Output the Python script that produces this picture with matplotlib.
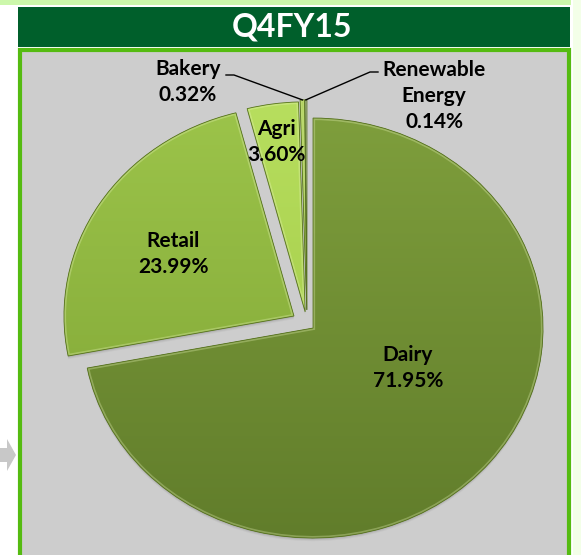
import numpy as np
import matplotlib.pyplot as plt
from matplotlib.patches import Rectangle, Polygon, Wedge
from matplotlib.colors import LinearSegmentedColormap

plt.rcParams['font.family'] = ['Lato', 'DejaVu Sans']

# data
segments = ['Dairy', 'Retail', 'Agri', 'Bakery', 'Renewable\nEnergy']
shares = [71.95, 23.99, 3.60, 0.32, 0.14]
share_labels = ['71.95%', '23.99%', '3.60%', '0.32%', '0.14%']
title = 'Q4FY15'

# styling
explode = [0.034, 0.067, 0.056, 0.065, 0.065]
top_cols = ['#7e9e3c', '#9cc44a', '#b7de5e', '#a6cc4c', '#a0ae94']
bot_cols = ['#617d2b', '#7ea334', '#9ec642', '#88ae36', '#7c8a72']

W, H = 581, 555
fig = plt.figure(figsize=(W / 100, H / 100), dpi=100)

# background frame, drawn in pixel units
bg = fig.add_axes([0, 0, 1, 1])
bg.set_xlim(0, W)
bg.set_ylim(H, 0)
bg.axis('off')
bg.add_patch(Rectangle((0, 0), 571, 4.5, color='#ccf7ab', lw=0))
bg.add_patch(Rectangle((573, 0), 8, H, color='#f3ffe8', lw=0))
bg.add_patch(Rectangle((18, 7), 552, 40, color='#005f2b', lw=0))
bg.add_patch(Rectangle((19.5, 49.5), 549, 510, facecolor='#cdcdcd',
                       edgecolor='#55bb11', linewidth=3))
bg.add_patch(Polygon([(0, 448), (7, 448), (7, 439), (16, 455), (7, 471),
                      (7, 462), (0, 462)], color='#c8c8c8', lw=0))
bg.text(292, 27, title, color='white', fontsize=23, fontweight='bold',
        ha='center', va='center')

# pie axes: 1 unit = 230 px across, 210 px down (the chart is stretched)
cx0, cy0, rx, ry = 307, 323.5, 230, 210
ax = fig.add_axes([0, 0, 1, 1])
ax.patch.set_alpha(0)


def px2d(x, y):
    return (x - cx0) / rx, (cy0 - y) / ry


wedges, _ = ax.pie(shares, explode=explode, startangle=90, counterclock=False,
                   radius=1, wedgeprops=dict(linewidth=0))

for i, w in enumerate(wedges):
    cx, cy = w.center
    # soft drop shadow below each slice
    for k, a in enumerate([0.12, 0.09, 0.06]):
        ax.add_patch(Wedge((cx, cy - 0.005 * (k + 1)), w.r, w.theta1, w.theta2,
                           color='#505050', alpha=a, lw=0, zorder=0.5))
    w.set_facecolor(bot_cols[i])
    w.set_zorder(1)
    cmap = LinearSegmentedColormap.from_list('g%d' % i, [top_cols[i], bot_cols[i]])
    grad = np.linspace(0, 1, 256).reshape(-1, 1)
    im = ax.imshow(grad, cmap=cmap, extent=[cx - 1, cx + 1, cy - 1, cy + 1],
                   origin='upper', aspect='auto', zorder=1.5)
    im.set_clip_path(w)
    # bevel-ish light rim, clipped so only the inner half of the stroke shows
    rim = Wedge((cx, cy), w.r, w.theta1, w.theta2, fill=False,
                edgecolor='#eef9c0', lw=3, alpha=0.3, zorder=1.8)
    ax.add_patch(rim)
    rim.set_clip_path(w)
    ax.add_patch(Wedge((cx, cy), w.r, w.theta1, w.theta2, fill=False,
                       edgecolor='#56711f', lw=0.6, zorder=2))

ax.set_aspect('auto')
ax.set_xlim(-cx0 / rx, (W - cx0) / rx)
ax.set_ylim((cy0 - H) / ry, cy0 / ry)
ax.axis('off')

lab_kw = dict(fontsize=15, fontweight='bold', color='black', ha='center',
              va='center', linespacing=1.35, zorder=5)
inner_pos = [(408, 368), (173, 254), (276, 142)]
for i in range(3):
    x, y = px2d(*inner_pos[i])
    ax.text(x, y, segments[i] + '\n' + share_labels[i], **lab_kw)

outer_pos = [(188, 82), (434, 96)]
line_start = [[(226, 75), (234, 75)], [(378, 72), (370, 72)]]
for j, i in enumerate([3, 4]):
    x, y = px2d(*outer_pos[j])
    ax.text(x, y, segments[i] + '\n' + share_labels[i], **lab_kw)
    w = wedges[i]
    mid = np.deg2rad((w.theta1 + w.theta2) / 2)
    ex = w.center[0] + w.r * np.cos(mid)
    ey = w.center[1] + w.r * np.sin(mid)
    pts = [px2d(*p) for p in line_start[j]] + [(ex, ey)]
    ax.plot([p[0] for p in pts], [p[1] for p in pts], color='black', lw=1, zorder=4)

fig.savefig('out.png', dpi=100)
